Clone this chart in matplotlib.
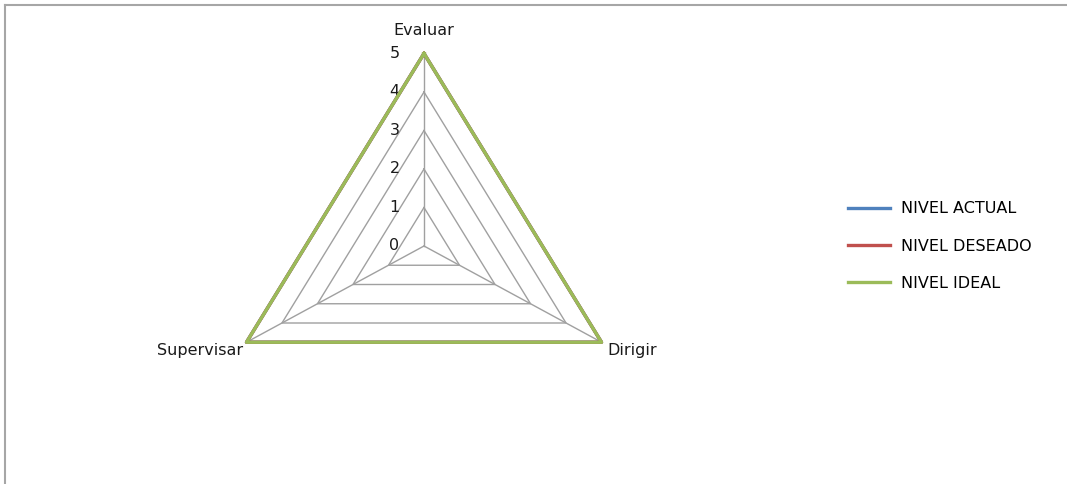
import numpy as np
from matplotlib import pyplot as plt
from matplotlib.lines import Line2D

plt.rcParams['font.family'] = ['DejaVu Sans']

categorias = ['Evaluar', 'Dirigir', 'Supervisar']
nivel_actual = [5, 5, 5]
nivel_deseado = [5, 5, 5]
nivel_ideal = [5, 5, 5]
series = ['NIVEL ACTUAL', 'NIVEL DESEADO', 'NIVEL IDEAL']
colores = ['#4f81bd', '#c0504d', '#9bbb59']
escala = [0, 1, 2, 3, 4, 5]

# angulos de cada eje, empezando arriba y en sentido horario
ang = np.pi / 2 - np.arange(len(categorias)) * 2 * np.pi / len(categorias)


def xy(valores):
    v = np.append(valores, valores[0])
    a = np.append(ang, ang[0])
    return v * np.cos(a), v * np.sin(a)


fig = plt.figure(figsize=(10.67, 4.84), dpi=100)
ax = fig.add_axes([174 / 1067, 8 / 484, 500 / 1067, 460 / 484])
ax.set_xlim(-250 / 41, 250 / 41)
ax.set_ylim(-230 / 38.5, 230 / 38.5)
ax.axis('off')

# rejilla
for r in escala[1:]:
    gx, gy = xy([r] * len(categorias))
    ax.plot(gx, gy, color='#a0a0a0', lw=1, zorder=1)
for a in ang:
    ax.plot([0, escala[-1] * np.cos(a)], [0, escala[-1] * np.sin(a)], color='#a0a0a0', lw=1, zorder=1)

# etiquetas de la escala
for r in escala:
    ax.text(-0.72, r, str(r), ha='center', va='center', fontsize=11.5, color='#1a1a1a')

# series
for nombre, vals, c in zip(series, [nivel_actual, nivel_deseado, nivel_ideal], colores):
    sx, sy = xy(vals)
    ax.plot(sx, sy, color=c, lw=2.4, label=nombre, zorder=3)

# nombres de los ejes
ax.text(0, escala[-1] + 0.6, categorias[0], ha='center', va='center', fontsize=11.5, color='#1a1a1a')
x1, y1 = escala[-1] * np.cos(ang[1]), escala[-1] * np.sin(ang[1])
ax.text(x1 + 0.15, y1 - 0.22, categorias[1], ha='left', va='center', fontsize=11.5, color='#1a1a1a')
x2, y2 = escala[-1] * np.cos(ang[2]), escala[-1] * np.sin(ang[2])
ax.text(x2 - 0.08, y2 - 0.22, categorias[2], ha='right', va='center', fontsize=11.5, color='#1a1a1a')

fig.legend(loc='center left', bbox_to_anchor=(840 / 1067, 1 - 246 / 484), frameon=False,
           fontsize=11.5, borderpad=0, handlelength=2.6, handletextpad=0.75, labelspacing=1.4)

# borde del grafico
fig.add_artist(Line2D([5 / 1067, 1], [1 - 5 / 484, 1 - 5 / 484], color='#a6a6a6', lw=1.5))
fig.add_artist(Line2D([5 / 1067, 5 / 1067], [0, 1 - 5 / 484], color='#a6a6a6', lw=1.5))

plt.savefig('out.png', dpi=100)
